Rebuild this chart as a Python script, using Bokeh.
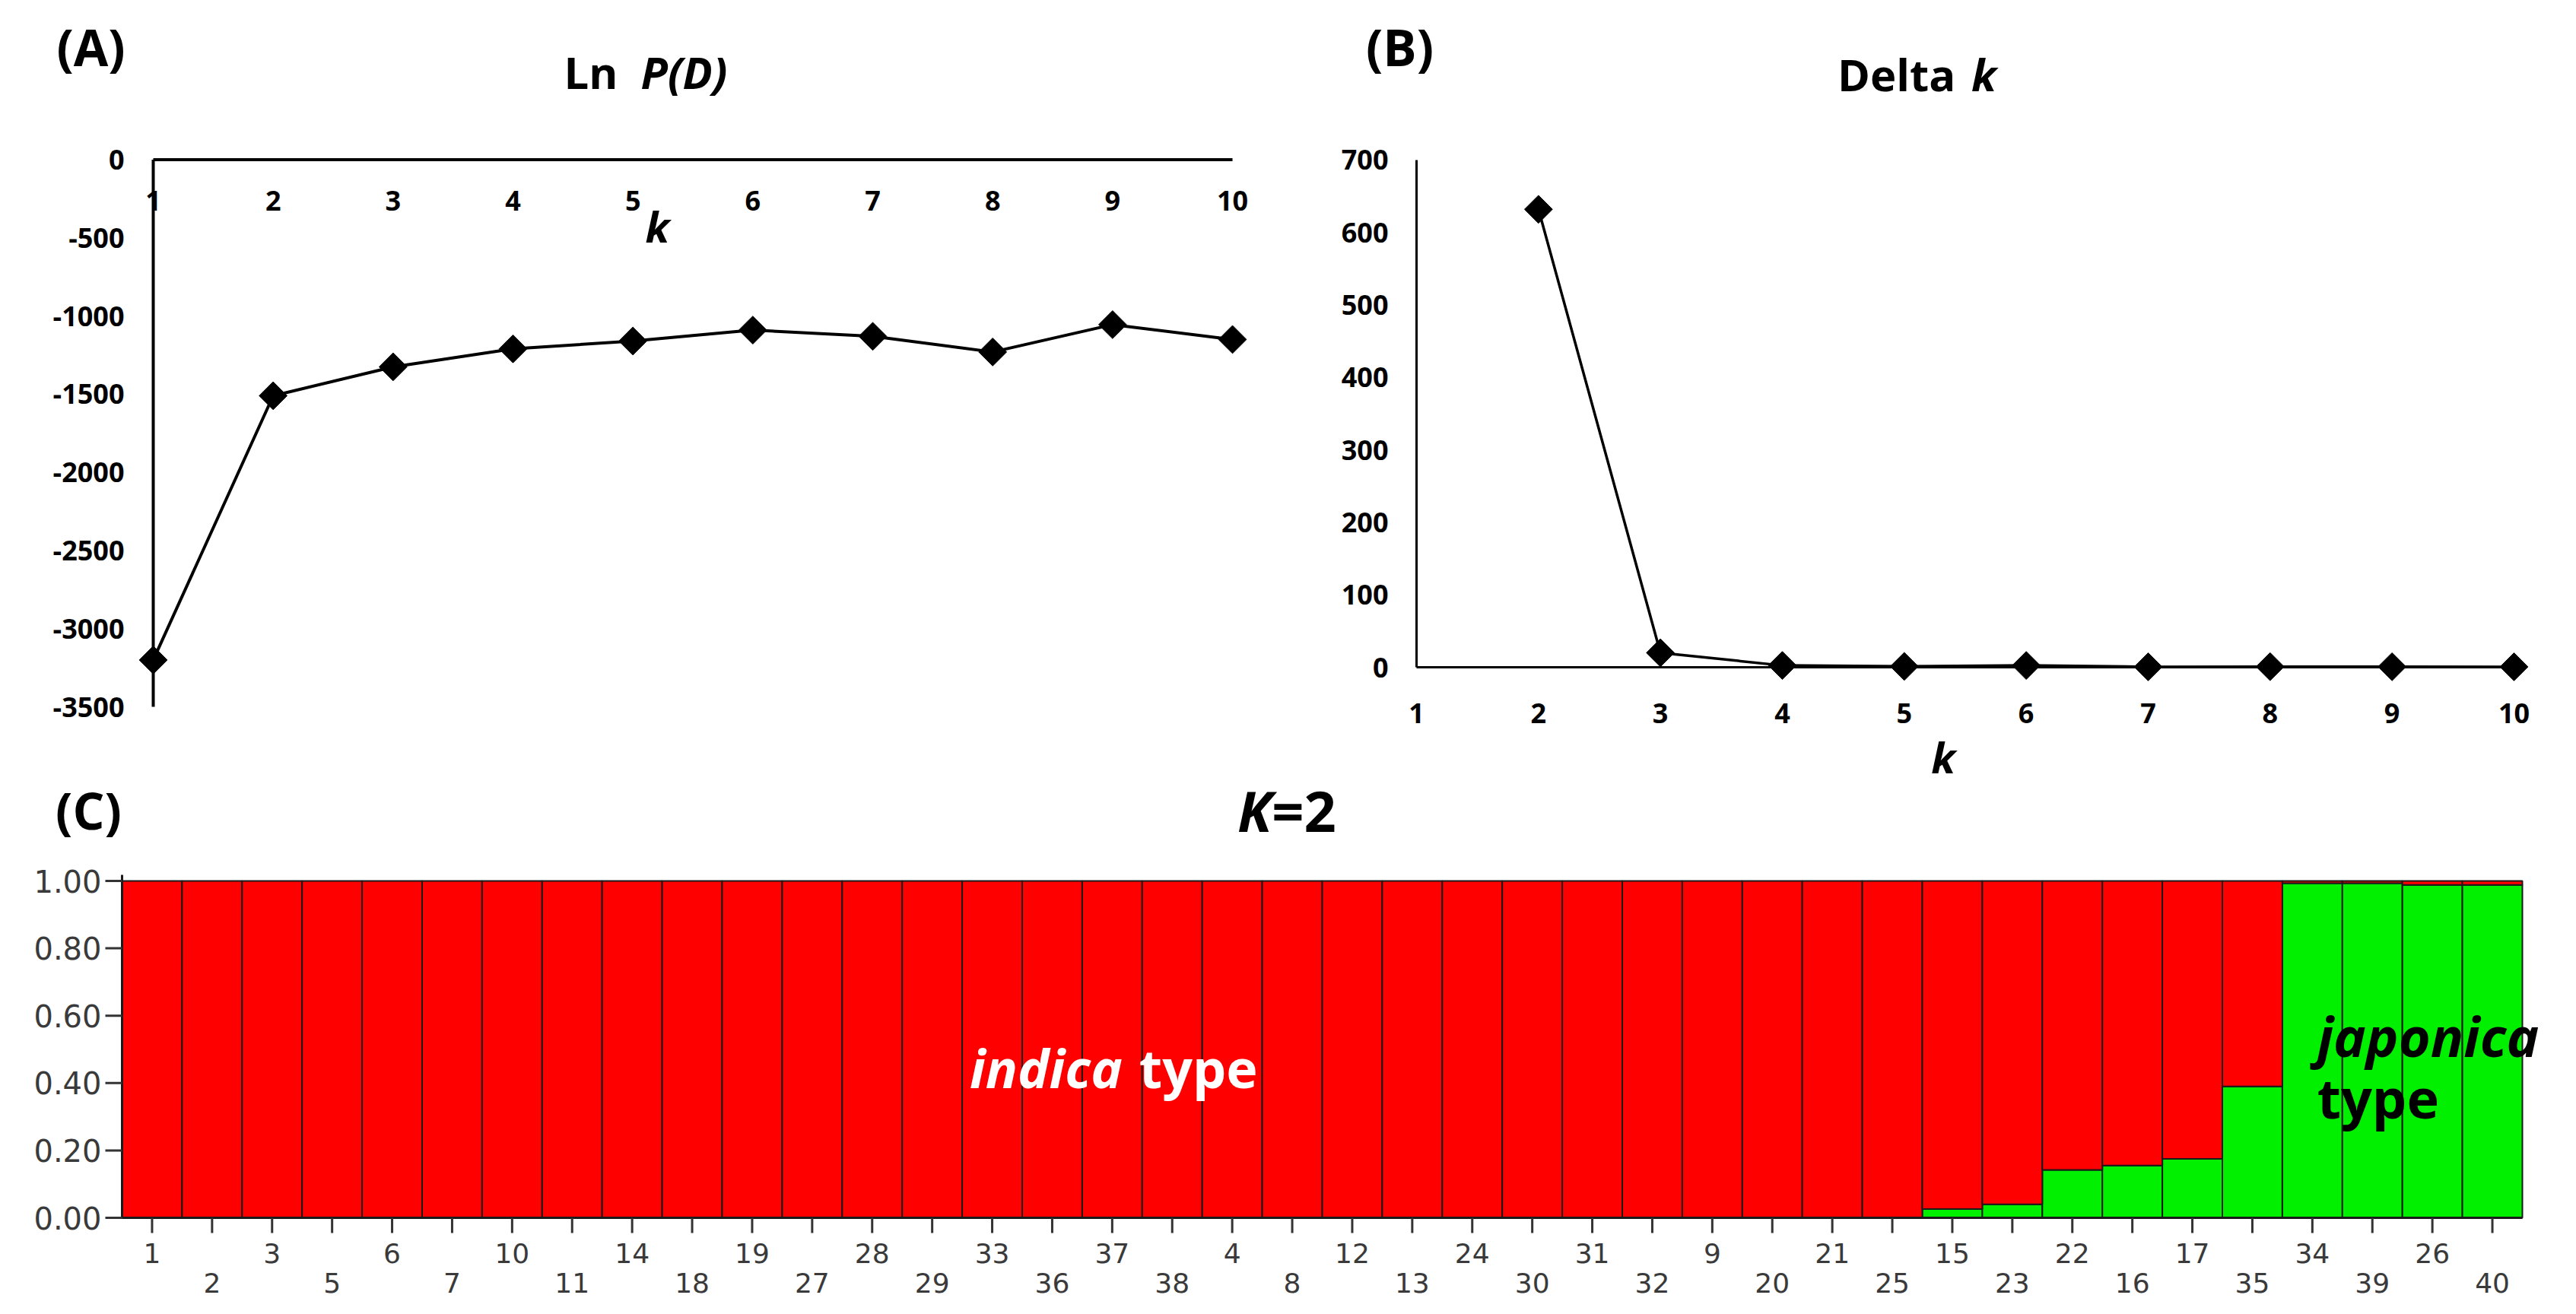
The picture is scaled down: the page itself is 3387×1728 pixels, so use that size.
from bokeh.plotting import figure
from bokeh.models import Label, Range1d, ColumnDataSource
from bokeh.core.properties import value
from bokeh.embed import file_html
from bokeh.resources import INLINE
import numpy as np

# ---- data -------------------------------------------------------------
k_values = [1, 2, 3, 4, 5, 6, 7, 8, 9, 10]
ln_pd = [-3200, -1510, -1325, -1210, -1160, -1090, -1130, -1230, -1055, -1150]

delta_k_values = [2, 3, 4, 5, 6, 7, 8, 9, 10]
delta_k = [632, 20, 2.5, 1.2, 2.5, 0.6, 0.8, 0.7, 0.6]

ln_pd_ticks = [0, -500, -1000, -1500, -2000, -2500, -3000, -3500]
delta_k_ticks = [0, 100, 200, 300, 400, 500, 600, 700]
q_ticks = [0.0, 0.2, 0.4, 0.6, 0.8, 1.0]

sample_ids = ["1", "2", "3", "5", "6", "7", "10", "11", "14", "18",
              "19", "27", "28", "29", "33", "36", "37", "38", "4", "8",
              "12", "13", "24", "30", "31", "32", "9", "20", "21", "25",
              "15", "23", "22", "16", "17", "35", "34", "39", "26", "40"]
japonica_q = [0.0, 0.0, 0.0, 0.0, 0.0, 0.0, 0.0, 0.0, 0.0, 0.0,
              0.0, 0.0, 0.0, 0.0, 0.0, 0.0, 0.0, 0.0, 0.0, 0.0,
              0.0, 0.0, 0.0, 0.0, 0.0, 0.0, 0.0, 0.0, 0.0, 0.0,
              0.026, 0.040, 0.142, 0.155, 0.175, 0.390, 0.993, 0.993, 0.988, 0.988]

FONT = "Open Sans"
BAR_FONT = "DejaVu Sans"
W, H = 3387, 1728


def ranges(x_ref, x_ref_px, x_scale, y_ref, y_ref_px, y_scale):
    """Ranges placing x_ref at x_ref_px from the left and y_ref at y_ref_px
    from the top of the canvas, with the given pixels per data unit."""
    xr = Range1d(x_ref - x_ref_px / x_scale, x_ref + (W - x_ref_px) / x_scale)
    yr = Range1d(y_ref - (H - y_ref_px) / y_scale, y_ref + y_ref_px / y_scale)
    return xr, yr


# one canvas, one coordinate system per panel
ax, ay = ranges(1, 201, 157.67, 0, 209.5, 0.2056)        # (A)
bx, by = ranges(1, 1862, 160.33, 0, 877, 0.9529)         # (B)
BAR_PX, Q_PX = 78.9, 443.0
cx, cy = ranges(0.5, 160, BAR_PX, 0, 1601, Q_PX)          # (C)

p = figure(width=W, height=H, x_range=ax, y_range=ay,
           x_axis_location=None, y_axis_location=None, toolbar_location=None,
           output_backend="svg", min_border=0)
p.extra_x_ranges = {"b": bx, "c": cx}
p.extra_y_ranges = {"b": by, "c": cy}
p.outline_line_color = None
p.grid.visible = False
p.background_fill_color = "white"
p.border_fill_color = "white"


def rn(panel):
    return {} if panel == "a" else dict(x_range_name=panel, y_range_name=panel)


def label(panel, x, y, text, size, style="bold", align="center", color="black", font=FONT):
    p.add_layout(Label(x=x, y=y, text=text, text_font=font, text_font_size=size,
                       text_font_style=style, text_align=align, text_baseline="middle",
                       text_color=color, **rn(panel)))


def tick_text(panel, xs, ys, texts, size, align, x_off=0, y_off=0, font=FONT, style="bold",
              color="black"):
    src = ColumnDataSource(dict(x=xs, y=ys, t=texts))
    p.text(x="x", y="y", text="t", source=src, text_font=value(font),
           text_font_size=size, text_font_style=style, text_color=color,
           text_align=align, text_baseline="middle", x_offset=x_off, y_offset=y_off,
           **rn(panel))


def line_axes(panel, xs, yticks, width):
    # x axis along y = 0 from first to last k, y axis at the first k
    p.segment(x0=[xs[0], xs[0]], y0=[0, max(yticks)], x1=[xs[-1], xs[0]], y1=[0, min(yticks)],
              line_color="black", line_width=width, **rn(panel))


def k_plot(panel, xs, ys, yticks, axis_w, line_w, x_lab_off, y_lab_off):
    line_axes(panel, k_values, yticks, axis_w)
    tick_text(panel, [k_values[0]] * len(yticks), yticks, [str(t) for t in yticks],
              "36px", "right", x_off=y_lab_off)
    tick_text(panel, k_values, [0] * len(k_values), [str(k) for k in k_values], "36px",
              "center", y_off=x_lab_off)
    p.line(xs, ys, line_width=line_w, line_color="black", **rn(panel))
    p.scatter(xs, ys, marker="square", angle=np.pi / 4, size=26,
              fill_color="black", line_color="black", **rn(panel))


# ---- (A) Ln P(D) ------------------------------------------------------
k_plot("a", k_values, ln_pd, ln_pd_ticks, 4, 4, 54, -38)
label("a", 0.48, 727, "(A)", "66px")
label("a", 4.875, 562, "Ln", "58px", align="right")
label("a", 5.066, 562, "P(D)", "58px", style="bold italic", align="left")
label("a", 5.205, -421, "k", "56px", style="bold italic")

# ---- (B) Delta k ------------------------------------------------------
k_plot("b", delta_k_values, delta_k, delta_k_ticks, 3, 3.5, 60, -37)
label("b", 0.863, 857, "(B)", "66px")
label("b", 5.42, 819, "Delta", "58px", align="right")
label("b", 5.55, 819, "k", "58px", style="bold italic", align="left")
label("b", 5.32, -123, "k", "56px", style="bold italic")

# ---- (C) K=2 admixture bars -------------------------------------------
pos = list(range(1, len(sample_ids) + 1))
left = [x - 0.5 for x in pos]
right = [x + 0.5 for x in pos]
bars = ColumnDataSource(dict(left=left, right=right, jap=japonica_q,
                             zero=[0.0] * len(pos), one=[1.0] * len(pos)))
p.quad(left="left", right="right", bottom="zero", top="jap", source=bars,
       fill_color="#00F000", line_color="#1a1a1a", line_width=2, **rn("c"))
p.quad(left="left", right="right", bottom="jap", top="one", source=bars,
       fill_color="#FF0000", line_color="#1a1a1a", line_width=2, **rn("c"))

# axis lines
p.segment(x0=[left[0], left[0]], y0=[0, 0], x1=[right[-1], left[0]], y1=[0, 1.0 + 8 / Q_PX],
          line_color="#1a1a1a", line_width=3, **rn("c"))
# y ticks and labels
tick_len_x = 22 / BAR_PX
p.segment(x0=[left[0] - tick_len_x] * len(q_ticks), y0=q_ticks,
          x1=[left[0]] * len(q_ticks), y1=q_ticks, line_color="#333333", line_width=3, **rn("c"))
tick_text("c", [left[0]] * len(q_ticks), q_ticks, [f"{t:.2f}" for t in q_ticks], "40px",
          "right", x_off=-27, font=BAR_FONT, style="normal", color="#3a3a3a")
# x ticks and two staggered rows of sample labels
tick_len_y = 20 / Q_PX
p.segment(x0=pos, y0=[0] * len(pos), x1=pos, y1=[-tick_len_y] * len(pos),
          line_color="#333333", line_width=3, **rn("c"))
tick_text("c", pos[0::2], [0] * len(pos[0::2]), sample_ids[0::2], "36px", "center",
          y_off=46, font=BAR_FONT, style="normal", color="#3a3a3a")
tick_text("c", pos[1::2], [0] * len(pos[1::2]), sample_ids[1::2], "36px", "center",
          y_off=85, font=BAR_FONT, style="normal", color="#3a3a3a")

label("c", -0.058, 1.21, "(C)", "66px")
label("c", 19.66, 1.21, "K", "74px", style="bold italic", align="right")
label("c", 19.66, 1.21, "=2", "74px", align="left")
label("c", 17.17, 0.445, "indica", "70px", style="bold italic", align="right", color="white")
label("c", 17.45, 0.445, "type", "70px", align="left", color="white")
label("c", 37.08, 0.54, "japonica", "72px", style="bold italic", align="left")
label("c", 37.08, 0.357, "type", "72px", align="left")

open("out.html", "w").write(file_html(p, INLINE))
